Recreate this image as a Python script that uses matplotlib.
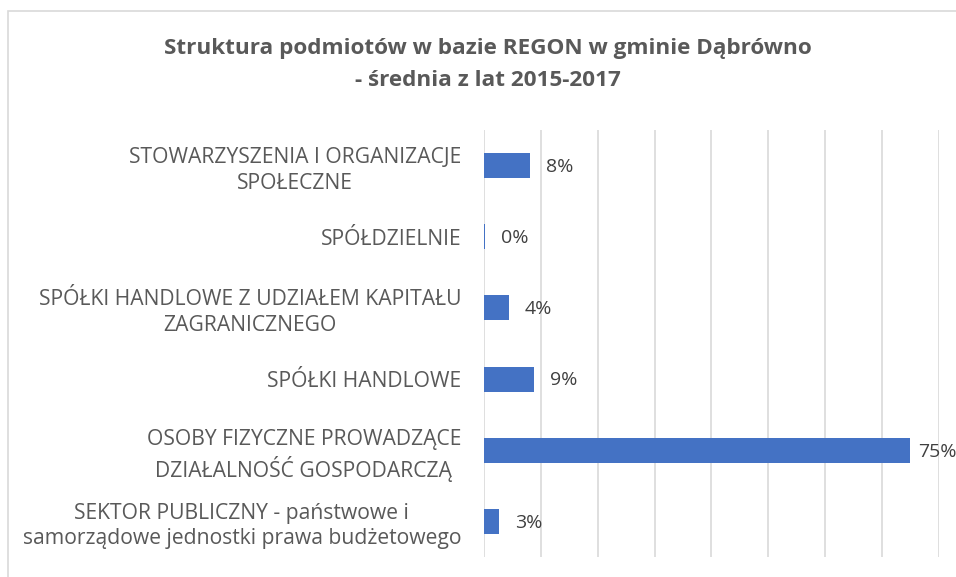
import matplotlib.pyplot as plt
from matplotlib.patches import Rectangle

# categories listed bottom to top, like Excel draws them
categories = [
    "SEKTOR PUBLICZNY - państwowe i\nsamorządowe jednostki prawa budżetowego",
    "OSOBY FIZYCZNE PROWADZĄCE\nDZIAŁALNOŚĆ GOSPODARCZĄ",
    "SPÓŁKI HANDLOWE",
    "SPÓŁKI HANDLOWE Z UDZIAŁEM KAPITAŁU\nZAGRANICZNEGO",
    "SPÓŁDZIELNIE",
    "STOWARZYSZENIA I ORGANIZACJE\nSPOŁECZNE",
]
shares = [2.6, 75.0, 8.8, 4.4, 0.2, 8.1]
value_labels = ["3%", "75%", "9%", "4%", "0%", "8%"]

title = "Struktura podmiotów w bazie REGON w gminie Dąbrówno\n- średnia z lat 2015-2017"

plt.rcParams['font.family'] = ['Open Sans', 'DejaVu Sans']

fig = plt.figure(figsize=(9.56, 5.77), dpi=100)
ax = fig.add_axes([484 / 956, 1 - 557 / 577, (938.7 - 484) / 956, 427 / 577])

# chart border (cropped on the right and bottom in the original)
fig.patches.append(Rectangle((8 / 956, -0.1), 1.2, 1 - 11 / 577 + 0.1,
                             transform=fig.transFigure, fill=False,
                             edgecolor="#D9D9D9", linewidth=1.2))

y = list(range(len(categories)))
ax.barh(y, shares, height=0.35, color="#4472C4", zorder=3)

for yi, v, lab in zip(y, shares, value_labels):
    pad = 6 if v > 70 else 11.5
    ax.annotate(lab, (v, yi), xytext=(pad, -1), textcoords="offset points",
                va="center", ha="left", fontsize=14, color="#404040",
                annotation_clip=False)

ax.set_xlim(0, 80)
ax.set_ylim(-0.5, len(categories) - 0.5)
ax.set_xticks(range(0, 81, 10))
ax.xaxis.grid(True, color="#D9D9D9", linewidth=1.2, zorder=0)
ax.tick_params(axis="x", length=0, labelbottom=False)
ax.tick_params(axis="y", length=0, pad=16.5, labelsize=15.2, labelcolor="#595959")
ax.set_yticks(y)
ax.set_yticklabels(categories, multialignment="center", linespacing=1.28)
for s in ax.spines.values():
    s.set_visible(False)

fig.text(488 / 956, 1 - 64.5 / 577, title, ha="center", va="center",
         fontsize=16.2, fontweight="bold", color="#595959", linespacing=1.68)

fig.savefig("out.png", dpi=100)
